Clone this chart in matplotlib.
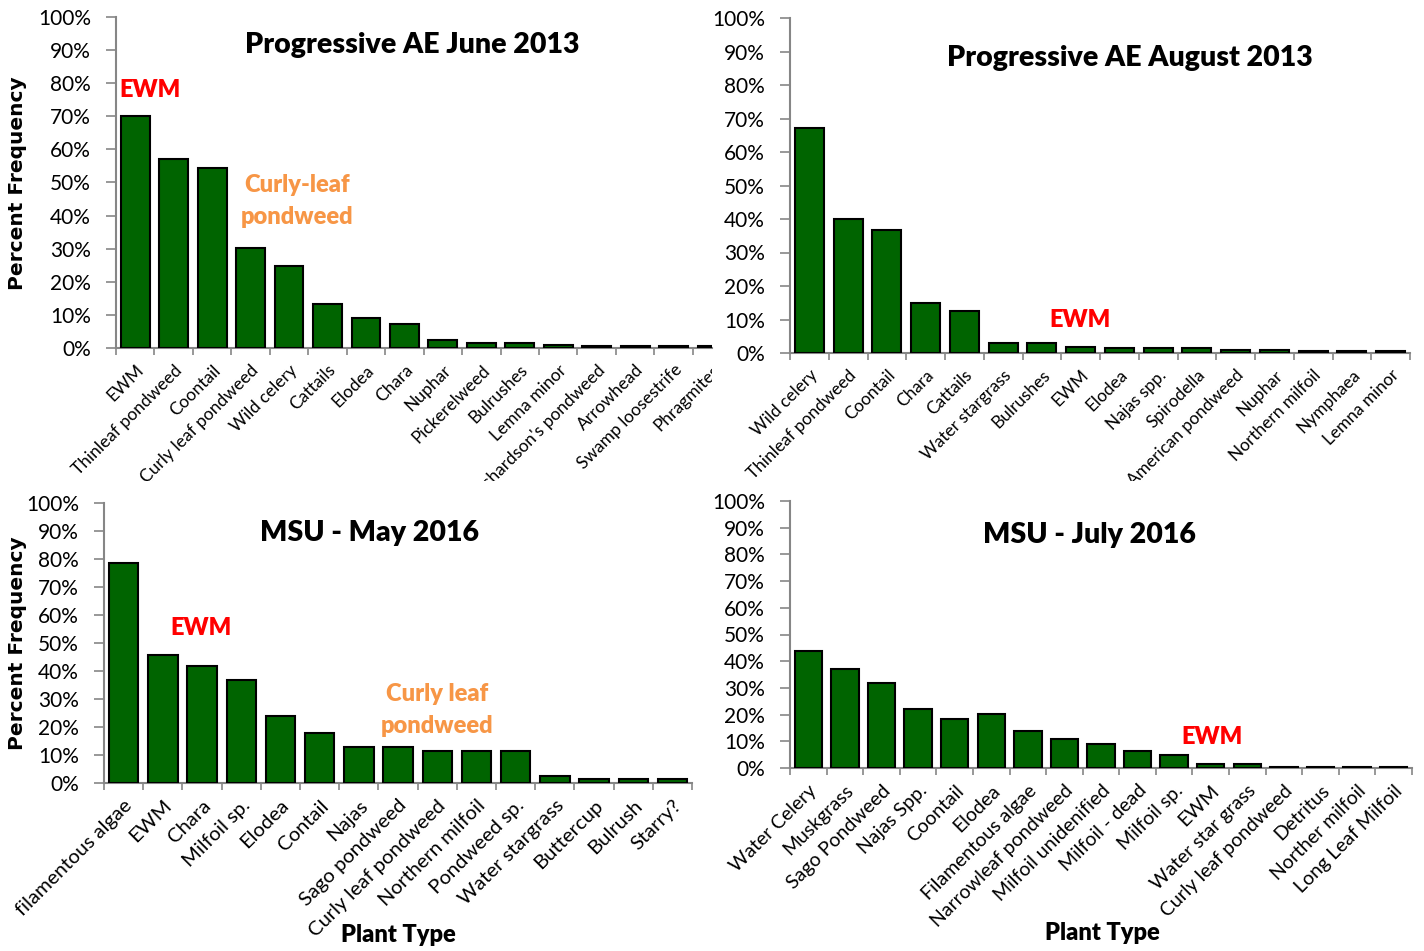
import matplotlib
matplotlib.use('Agg')
import matplotlib.pyplot as plt
from matplotlib.ticker import FixedLocator, PercentFormatter
from matplotlib.transforms import Bbox, TransformedBbox
import numpy as np

plt.rcParams['font.family'] = ['Lato', 'DejaVu Sans']

# --- data (percent frequency) ---
june13_plants = ['EWM', 'Thinleaf pondweed', 'Coontail', 'Curly leaf pondweed', 'Wild celery',
                 'Cattails', 'Elodea', 'Chara', 'Nuphar', 'Pickerelweed', 'Bulrushes',
                 'Lemna minor', "Richardson's pondweed", 'Arrowhead', 'Swamp loosestrife',
                 'Phragmites']
june13_freq = [70, 57.2, 54.4, 30.1, 24.8, 13.4, 9.1, 7.1, 2.3, 1.4, 1.4, 0.9, 0.5, 0.5, 0.5, 0.5]

aug13_plants = ['Wild celery', 'Thinleaf pondweed', 'Coontail', 'Chara', 'Cattails',
                'Water stargrass', 'Bulrushes', 'EWM', 'Elodea', 'Najas spp.', 'Spirodella',
                'American pondweed', 'Nuphar', 'Northern milfoil', 'Nymphaea', 'Lemna minor']
aug13_freq = [67.2, 40.0, 36.7, 14.8, 12.4, 2.9, 2.9, 1.9, 1.4, 1.4, 1.4, 0.9, 0.9, 0.5, 0.5, 0.5]

may16_plants = ['filamentous algae', 'EWM', 'Chara', 'Milfoil sp.', 'Elodea', 'Contail', 'Najas',
                'Sago pondweed', 'Curly leaf pondweed', 'Northern milfoil', 'Pondweed sp.',
                'Water stargrass', 'Buttercup', 'Bulrush', 'Starry?']
may16_freq = [78.5, 45.6, 41.8, 36.7, 24.1, 17.7, 12.7, 12.7, 11.4, 11.4, 11.4, 2.5, 1.3, 1.3, 1.3]

jul16_plants = ['Water Celery', 'Muskgrass', 'Sago Pondweed', 'Najas Spp.', 'Coontail', 'Elodea',
                'Filamentous algae', 'Narrowleaf pondweed', 'Milfoil unidenified', 'Milfoil - dead',
                'Milfoil sp.', 'EWM', 'Water star grass', 'Curly leaf pondweed', 'Detritus',
                'Norther milfoil', 'Long Leaf Milfoil']
jul16_freq = [43.7, 37.0, 32.0, 22.0, 18.4, 20.1, 13.7, 10.8, 8.9, 6.3, 5.0, 1.5, 1.5, 0.3, 0.3, 0.3, 0.3]

W, H = 1424, 951
fig = plt.figure(figsize=(W / 100, H / 100), dpi=100)

GREEN = '#006400'
GRAY = '#868686'
RED = '#FF0000'
ORANGE = '#F79646'


def px(x, y):
    return x / W, 1 - y / H


def panel(rect_px, plants, freq, labelsize=13, xmax=None, clip=None):
    # rect_px = (left, right, y of 0%, y of 100%) in picture pixels
    l, r, y0, y1 = rect_px
    ax = fig.add_axes([l / W, 1 - y0 / H, (r - l) / W, (y0 - y1) / H])
    x = np.arange(len(plants))
    ax.bar(x, freq, width=0.75, color=GREEN, edgecolor='black', linewidth=1.5, zorder=3)
    ax.set_ylim(0, 100)
    ax.set_xlim(-0.5, len(plants) - 0.5 if xmax is None else xmax)
    ax.yaxis.set_major_locator(FixedLocator(np.arange(0, 101, 10)))
    ax.yaxis.set_major_formatter(PercentFormatter(decimals=0))
    ax.set_xticks(x)
    ax.set_xticklabels(plants, rotation=45, ha='right', va='top', rotation_mode='anchor',
                       fontsize=labelsize)
    ax.xaxis.set_minor_locator(FixedLocator(np.arange(len(plants) + 1) - 0.5))
    ax.tick_params(axis='x', which='major', length=0, pad=10)
    ax.tick_params(axis='x', which='minor', length=5, width=1.2, color=GRAY, direction='out')
    ax.tick_params(axis='y', length=7, width=1.2, color=GRAY, direction='out', pad=11,
                   labelsize=15)
    for s in ['top', 'right']:
        ax.spines[s].set_visible(False)
    for s in ['left', 'bottom']:
        ax.spines[s].set_color(GRAY)
        ax.spines[s].set_linewidth(1.5)
    if clip is not None:
        box = TransformedBbox(Bbox(clip), fig.transFigure)
        for lab in ax.get_xticklabels():
            lab.set_clip_box(box)
            lab.set_clip_on(True)
    return ax


ax1 = panel((116, 712, 348, 17), june13_plants, june13_freq, labelsize=12.5, xmax=14.94,
            clip=[[0, 1 - 481 / H], [0.5, 1]])
ax2 = panel((790, 1410, 353, 18), aug13_plants, aug13_freq, labelsize=12.4,
            clip=[[0.5, 1 - 481 / H], [1, 1]])
ax3 = panel((104, 692, 783, 503), may16_plants, may16_freq, labelsize=14.6)
ax4 = panel((790, 1412, 768, 501), jul16_plants, jul16_freq, labelsize=14)

title_kw = dict(fontsize=20.5, fontweight='heavy', ha='center', va='center')
fig.text(*px(412, 45), 'Progressive AE June 2013', **title_kw)
fig.text(*px(1130, 58), 'Progressive AE August 2013', **title_kw)
fig.text(*px(370, 533), 'MSU - May 2016', **title_kw)
fig.text(*px(1089, 535), 'MSU - July 2016', **title_kw)

note_kw = dict(fontsize=17, fontweight='heavy', ha='center', va='center')
fig.text(*px(150, 90), 'EWM', color=RED, **note_kw)
fig.text(*px(297, 185), 'Curly-leaf', color=ORANGE, **note_kw)
fig.text(*px(297, 217), 'pondweed', color=ORANGE, **note_kw)
fig.text(*px(1080, 320), 'EWM', color=RED, **note_kw)
fig.text(*px(201, 628), 'EWM', color=RED, **note_kw)
fig.text(*px(437, 694), 'Curly leaf', color=ORANGE, **note_kw)
fig.text(*px(437, 726), 'pondweed', color=ORANGE, **note_kw)
fig.text(*px(1212, 737), 'EWM', color=RED, **note_kw)

ylab_kw = dict(fontsize=14.5, fontweight='bold', family='DejaVu Sans', rotation=90,
               ha='center', va='center')
fig.text(*px(18, 183), 'Percent Frequency', **ylab_kw)
fig.text(*px(18, 643), 'Percent Frequency', **ylab_kw)

xlab_kw = dict(fontsize=17, fontweight='heavy', ha='center', va='center')
fig.text(*px(398, 935), 'Plant Type', **xlab_kw)
fig.text(*px(1102, 933), 'Plant Type', **xlab_kw)

fig.savefig('out.png', dpi=100)
